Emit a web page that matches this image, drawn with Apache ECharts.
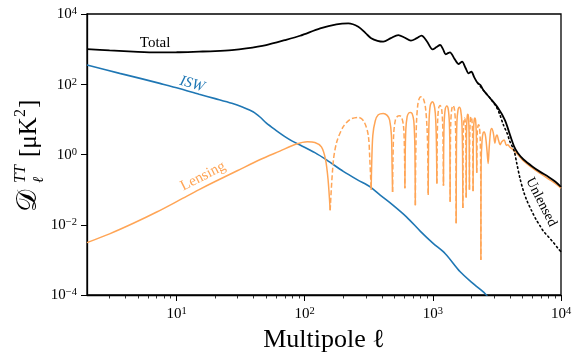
<!DOCTYPE html>
<html>
<head>
<meta charset="UTF-8">
<title>TT lensing and ISW</title>
<script src="https://cdn.jsdelivr.net/npm/echarts/dist/echarts.min.js"></script>
<style>
html, body { margin: 0; padding: 0; background: #fff; }
#chart { width: 581px; height: 361px; }
</style>
</head>
<body>
<div id="chart"></div>
<script>
// values
const totalEll = [2, 3, 5, 7, 10, 15, 20, 27, 35, 50, 70, 92, 132, 177, 219, 262, 300, 330, 370, 410,
  470, 537, 600, 674, 750, 815, 900, 995, 1070, 1140, 1200, 1260, 1310, 1360, 1480, 1590, 1640, 1690,
  1800, 1900, 1950, 2000, 2100, 2230, 2350, 2500, 2800, 3200, 3650, 4010, 4300, 4600, 5100, 6000,
  6880, 8000, 9000, 10000];
const totalVal = [1000, 920, 840, 811, 815, 850, 880, 940, 1050, 1310, 1800, 2400, 3900, 5100, 5430,
  4350, 2800, 2050, 1720, 1630, 2050, 2520, 2150, 1740, 2050, 2410, 1650, 986, 1150, 1310, 1000, 711,
  770, 811, 520, 376, 410, 438, 290, 204, 218, 227, 160, 110, 95, 65, 40, 22, 9.5, 3.5, 1.7, 1.1,
  0.72, 0.45, 0.32, 0.23, 0.17, 0.12];

const iswEll = [2, 3.6, 5.2, 7.4, 10.5, 15, 20, 27, 33, 39.5, 45, 50, 60, 70, 80, 92, 120, 149, 200,
  260, 324, 388, 480, 622, 800, 1000, 1250, 1634, 2100, 2550, 2800];
const iswVal = [352, 204, 147, 106, 76, 52, 39, 28.6, 22, 16.5, 11.5, 7.9, 4.8, 3.24, 2.41, 1.86, 1.13,
  0.69, 0.33, 0.187, 0.12, 0.07, 0.038, 0.0168, 0.0065, 0.003, 0.0015, 0.00046, 0.0002, 0.00011, 0.00007];

// lensing: |D_l| with its sign (1 positive = solid, -1 negative = dashed, 0 = zero crossing)
const lensEll = [
  2, 3, 4.6, 7, 10.5, 15, 20, 30, 45, 64, 85, 105, 120, 135, 145, 152, 158,
  167, 178, 200, 226, 262, 290, 313, 322, 330,
  333, 340, 355, 375, 410, 440, 460, 475, 480, 485,
  488, 495, 510, 530, 550, 570, 590, 600, 605,
  608, 615, 630, 650, 670, 690, 710, 722, 727, 730,
  735, 745, 765, 790, 815, 845, 875, 900, 912, 920,
  925, 935, 955, 990, 1020, 1045, 1062, 1070, 1075,
  1080, 1090, 1110, 1140, 1170, 1190, 1202, 1210,
  1215, 1225, 1250, 1285, 1320, 1345, 1358, 1365,
  1370, 1380, 1405, 1440, 1475, 1500, 1513, 1520,
  1527, 1540, 1570, 1610, 1650, 1685, 1705, 1715,
  1720, 1730, 1750, 1765, 1785, 1805, 1815, 1820,
  1825, 1835, 1855, 1875, 1895, 1915, 1925, 1930,
  1935, 1948, 1970, 1990, 2015, 2040, 2053, 2060,
  2066, 2080, 2105, 2130, 2155, 2180, 2193, 2200,
  2207, 2220, 2250, 2280, 2310, 2340, 2360, 2370,
  2380, 2420, 2470, 2520, 2580, 2650, 2700, 2750, 2820, 2880, 2960, 3050, 3110, 3170, 3250,
  3350, 3450, 3600, 3750, 3850, 4000, 4200, 4600, 5100, 6000, 6880, 8000, 9000, 10000];
const lensAbs = [
  0.0031, 0.0055, 0.011, 0.023, 0.05, 0.1, 0.17, 0.35, 0.72, 1.25, 1.95, 2.3, 2.2, 1.65, 0.75, 0.2, 0.026,
  0.62, 2.3, 6.2, 10, 11.4, 8.7, 3.6, 0.75, 0.097,
  0.5, 3.5, 9, 13.5, 14.8, 13, 9.5, 3.5, 0.6, 0.086,
  0.6, 4, 9.5, 12.3, 12.7, 11.5, 6.5, 1.5, 0.11,
  0.8, 5, 12, 15.3, 15.8, 14.5, 9, 2.5, 0.4, 0.036,
  0.8, 8, 28, 42, 44, 38, 22, 6, 1.2, 0.07,
  1.5, 10, 25, 31.7, 27, 15, 4, 0.8, 0.15,
  1.5, 9, 21, 25, 20, 9, 2, 0.13,
  1.5, 8, 20, 24, 19, 8, 1.5, 0.045,
  1.2, 8, 20, 25, 19, 8, 1.2, 0.011,
  1.2, 8, 18, 22, 18, 8, 1.2, 0.03,
  1, 5, 10, 11, 9.5, 4, 0.8, 0.06,
  1, 6, 12.5, 14, 12, 5, 1, 0.1,
  1, 6, 11, 12, 10, 4.5, 1, 0.09,
  1, 5.5, 10, 11, 9.5, 4.5, 1.2, 0.3,
  1, 4, 6.5, 7, 6, 3, 0.6, 0.001,
  0.5, 2.5, 4.2, 4.4, 3.2, 1.2, 0.55, 1.5, 4.5, 5.5, 4.2, 2.1, 3.2, 3.6, 2.6,
  1.9, 2.3, 2.6, 1.8, 1.9, 1.6, 1.4, 1.0, 0.65, 0.41, 0.29, 0.2, 0.15, 0.11];
const lensSign = [
  1, 1, 1, 1, 1, 1, 1, 1, 1, 1, 1, 1, 1, 1, 1, 1, 0,
  -1, -1, -1, -1, -1, -1, -1, -1, 0,
  1, 1, 1, 1, 1, 1, 1, 1, 1, 0,
  -1, -1, -1, -1, -1, -1, -1, -1, 0,
  1, 1, 1, 1, 1, 1, 1, 1, 1, 0,
  -1, -1, -1, -1, -1, -1, -1, -1, -1, 0,
  1, 1, 1, 1, 1, 1, 1, 1, 0,
  -1, -1, -1, -1, -1, -1, -1, 0,
  1, 1, 1, 1, 1, 1, 1, 0,
  -1, -1, -1, -1, -1, -1, -1, 0,
  1, 1, 1, 1, 1, 1, 1, 0,
  -1, -1, -1, -1, -1, -1, -1, 0,
  1, 1, 1, 1, 1, 1, 1, 0,
  -1, -1, -1, -1, -1, -1, -1, 0,
  1, 1, 1, 1, 1, 1, 1, 0,
  -1, -1, -1, -1, -1, -1, -1, 0,
  1, 1, 1, 1, 1, 1, 1, 1, 1, 1, 1, 1, 1, 1, 1,
  1, 1, 1, 1, 1, 1, 1, 1, 1, 1, 1, 1, 1, 1];

const unlensedEll = [2230, 2500, 2800, 3100, 3300, 3550, 3800, 4000, 4300, 4500, 4800, 5100, 5400,
  5900, 6400, 6900, 7300, 8000, 8800, 9500, 10000];
const unlensedVal = [110, 65, 40, 24, 15, 7, 4, 2.3, 1.3, 0.6, 0.2, 0.09, 0.05, 0.025, 0.014, 0.009,
  0.0065, 0.0045, 0.003, 0.0021, 0.0017];

const xMajorTicks = [10, 100, 1000, 10000];
const xMinorTicks = [3, 4, 5, 6, 7, 8, 9, 20, 30, 40, 50, 60, 70, 80, 90, 200, 300, 400, 500, 600,
  700, 800, 900, 2000, 3000, 4000, 5000, 6000, 7000, 8000, 9000];
const yTicks = [1e-4, 1e-2, 1, 1e2, 1e4];

const serif = '"Liberation Serif", "DejaVu Serif", serif';
const orange = '#ffa556';
const blue = '#1f77b4';

const pairs = (xs, ys) => xs.map((x, i) => [x, ys[i]]);
function lensPart(want) {
  return lensEll.map((l, i) => {
    const s = lensSign[i];
    return [l, (s === 0 || s === want) ? lensAbs[i] : null];
  });
}
function powLabel(v) {
  const e = Math.round(Math.log10(v));
  return '{b|10}{s|' + (e < 0 ? '\u2212' + (-e) : String(e)) + '}';
}
const labelRich = {
  b: { fontSize: 15, fontFamily: serif, color: '#000', verticalAlign: 'bottom' },
  s: { fontSize: 10.5, fontFamily: serif, color: '#000', verticalAlign: 'bottom', padding: [0, 0, 5, 0] }
};

const chart = echarts.init(document.getElementById('chart'));
const lineBase = { type: 'line', symbol: 'none', silent: true, animation: false, xAxisIndex: 0, yAxisIndex: 0,
  smooth: 0.3 };

chart.setOption({
  animation: false,
  grid: { left: 87, right: 20, top: 14, bottom: 66, show: true, borderColor: '#000', borderWidth: 1.3,
    outerBoundsMode: 'none' },
  xAxis: [{
    type: 'log', min: 2, max: 10000, position: 'bottom',
    name: 'Multipole \u2113', nameLocation: 'middle', nameGap: 26,
    nameTextStyle: { fontFamily: serif, fontSize: 26, color: '#000' },
    axisLine: { lineStyle: { color: '#000', width: 1.3 } },
    axisTick: { customValues: xMajorTicks, length: 6, lineStyle: { color: '#000', width: 1 } },
    axisLabel: { customValues: xMajorTicks, margin: 11, formatter: powLabel, rich: labelRich },
    splitLine: { show: false }
  }, {
    type: 'log', min: 2, max: 10000, position: 'bottom',
    axisLine: { show: false },
    axisTick: { customValues: xMinorTicks, length: 3.5, lineStyle: { color: '#000', width: 0.8 } },
    axisLabel: { show: false },
    splitLine: { show: false }
  }],
  yAxis: {
    type: 'log', min: 1e-4, max: 1e4,
    axisLine: { show: true, lineStyle: { color: '#000', width: 1.3 } },
    axisTick: { show: true, customValues: yTicks, length: 6, lineStyle: { color: '#000', width: 1 } },
    axisLabel: { customValues: yTicks, margin: 10, formatter: powLabel, rich: labelRich },
    splitLine: { show: false }
  },
  series: [
    Object.assign({ name: 'ISW', data: pairs(iswEll, iswVal), lineStyle: { color: blue, width: 1.6 } }, lineBase),
    Object.assign({ name: 'Lensing+', data: lensPart(1), lineStyle: { color: orange, width: 1.5 } }, lineBase),
    Object.assign({ name: 'Lensing-', data: lensPart(-1),
      lineStyle: { color: orange, width: 1.5, type: [5, 2.5] } }, lineBase),
    Object.assign({ name: 'Unlensed', data: pairs(unlensedEll, unlensedVal),
      lineStyle: { color: '#000', width: 1.6, type: [1.5, 3], cap: 'round' } }, lineBase),
    Object.assign({ name: 'Total', data: pairs(totalEll, totalVal), lineStyle: { color: '#000', width: 1.8 } }, lineBase)
  ]
});

// curve labels, anchored in data coordinates
const px = (l, d) => chart.convertToPixel({ xAxisIndex: 0, yAxisIndex: 0 }, [l, d]);
const deg = a => a * Math.PI / 180;
function note(text, at, color, rot, font) {
  const p = px(at[0], at[1]);
  return { type: 'text', x: p[0], y: p[1], rotation: deg(rot), silent: true,
    style: { text: text, fill: color, font: font, align: 'center', verticalAlign: 'middle' } };
}
chart.setOption({
  graphic: [
    note('Total', [6.8, 1490], '#000', 0, '15px ' + serif),
    note('ISW', [13.2, 101], blue, -16, 'italic 15px ' + serif),
    note('Lensing', [16.1, 0.24], orange, 27, '15px ' + serif),
    note('Unlensed', [7000, 0.044], '#000', -63, '14px ' + serif),
    {
      type: 'group', x: 29, y: 155, rotation: Math.PI / 2, silent: true,
      children: [
        { type: 'text', x: -57, y: 0, style: { text: '\uD835\uDC9F', fill: '#000', font: '28px ' + serif, align: 'left', verticalAlign: 'middle' } },
        { type: 'text', x: -28, y: -8, style: { text: 'TT', fill: '#000', font: 'italic 16px ' + serif, align: 'left', verticalAlign: 'middle' } },
        { type: 'text', x: -28, y: 10, style: { text: '\u2113', fill: '#000', font: 'italic 15px ' + serif, align: 'left', verticalAlign: 'middle' } },
        { type: 'text', x: -2, y: 0, style: { text: '[\u03BCK', fill: '#000', font: '25px ' + serif, align: 'left', verticalAlign: 'middle' } },
        { type: 'text', x: 38, y: -8, style: { text: '2', fill: '#000', font: '16px ' + serif, align: 'left', verticalAlign: 'middle' } },
        { type: 'text', x: 47, y: 0, style: { text: ']', fill: '#000', font: '25px ' + serif, align: 'left', verticalAlign: 'middle' } }
      ]
    }
  ]
});
</script>
</body>
</html>
